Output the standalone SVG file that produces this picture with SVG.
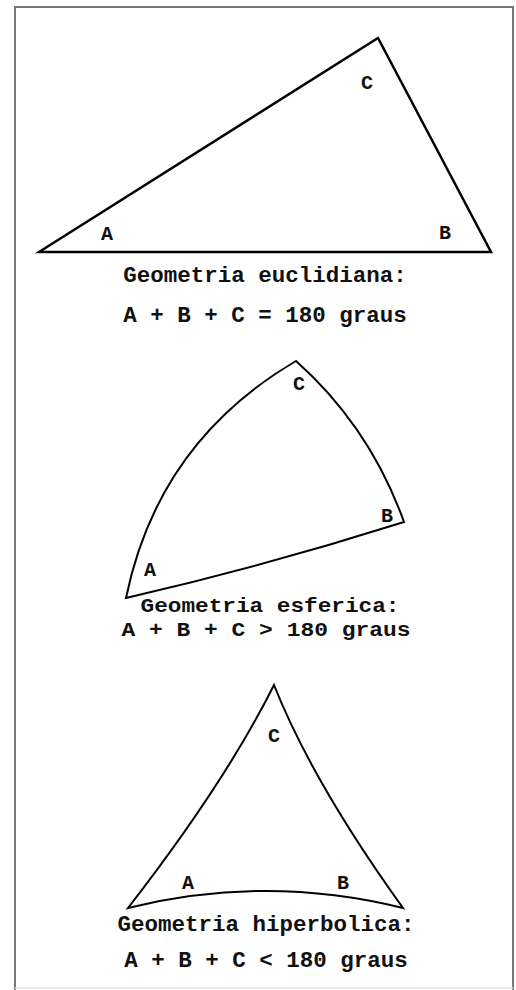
<svg xmlns="http://www.w3.org/2000/svg" width="516" height="990" viewBox="0 0 516 990">
<style>
.frame{fill:none;stroke:#777;stroke-width:2}
.edge{fill:none;stroke:#000;stroke-width:2.5;stroke-linejoin:miter}
.edge2{fill:none;stroke:#000;stroke-width:2}
text{font-family:"Liberation Mono","Courier New",monospace;font-weight:bold;fill:#111}
.lbl{font-size:20px;text-anchor:middle}
.cap{font-size:22.5px;text-anchor:middle}
.cap2{font-size:20.5px;text-anchor:middle}
</style>
<rect width="516" height="990" fill="#fff"/>
<path class="frame" d="M15,990 V7 H513 V990"/>
<line x1="15" y1="988" x2="513" y2="988" stroke="#e4e4e4" stroke-width="1.5"/>
<g id="euclidean">
<path class="edge" d="M39,252 L378,38 L491,252 Z"/>
<text class="lbl" x="107" y="240">A</text>
<text class="lbl" x="445" y="239">B</text>
<text class="lbl" x="367" y="89">C</text>
<text class="cap" x="265" y="282">Geometria euclidiana:</text>
<text class="cap" x="265" y="322">A + B + C = 180 graus</text>
</g>
<g id="spherical">
<path class="edge2" d="M126,598 Q158,442 296,361 Q370,427 404,522 Q265,566 126,598 Z"/>
<text class="lbl" x="150" y="576">A</text>
<text class="lbl" x="387" y="522">B</text>
<text class="lbl" x="299" y="390">C</text>
<text class="cap2" x="270" y="612" textLength="259" lengthAdjust="spacingAndGlyphs">Geometria esferica:</text>
<text class="cap2" x="266" y="636" textLength="289" lengthAdjust="spacingAndGlyphs">A + B + C &gt; 180 graus</text>
</g>
<g id="hyperbolic">
<path class="edge2" d="M128,908 Q225,783 274,685 Q313,783 403,908 Q266,874 128,908 Z"/>
<text class="lbl" x="188" y="889">A</text>
<text class="lbl" x="343" y="889">B</text>
<text class="lbl" x="274" y="742">C</text>
<text class="cap" x="266" y="931">Geometria hiperbolica:</text>
<text class="cap" x="266" y="967">A + B + C &lt; 180 graus</text>
</g>
</svg>
